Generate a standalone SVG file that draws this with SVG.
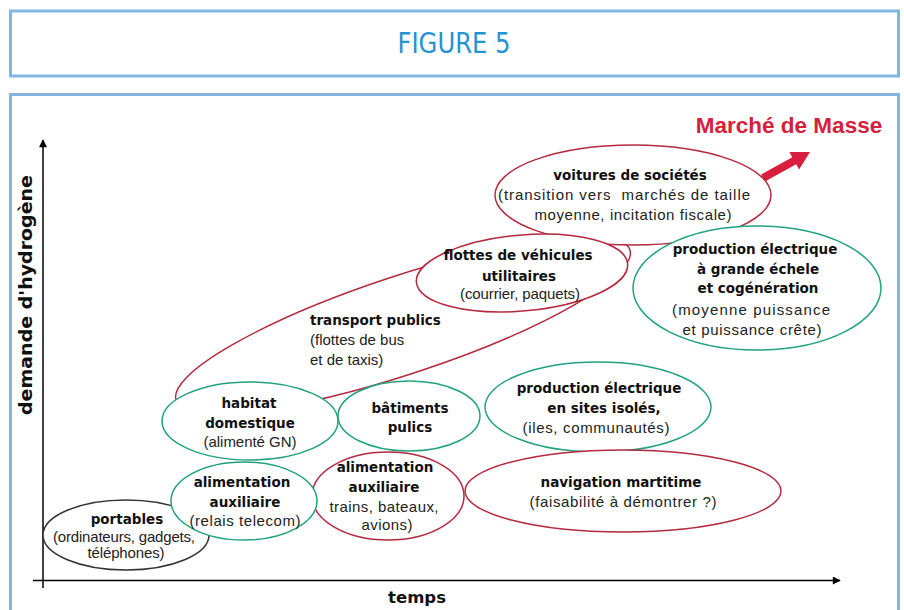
<svg xmlns="http://www.w3.org/2000/svg" width="904" height="610" viewBox="0 0 904 610">
<defs>
<marker id="ah" viewBox="0 0 10 10" refX="9" refY="5" markerWidth="10" markerHeight="8" markerUnits="userSpaceOnUse" orient="auto"><path d="M0,0 L10,5 L0,10 Z" fill="#000"/></marker>
</defs>
<style>
.frame{fill:none;stroke:#82b6e0;stroke-width:3}
.red{fill:#fff;stroke:#b42a3e;stroke-width:1.5}
.grn{fill:#fff;stroke:#22a27e;stroke-width:1.5}
.blk{fill:#fff;stroke:#333;stroke-width:1.5}
.b{font-family:"DejaVu Sans",Verdana,sans-serif;font-weight:bold;font-size:13.5px;fill:#111;text-anchor:middle}
.r{font-family:"Liberation Sans",Arial,sans-serif;font-size:15px;fill:#222;text-anchor:middle}
.ax{stroke:#000;stroke-width:1.5;fill:none}
</style>
<rect width="904" height="610" fill="#fff"/>
<rect class="frame" x="10.5" y="11" width="888" height="65"/>
<text x="454" y="53" font-family="'DejaVu Sans Condensed','DejaVu Sans',sans-serif" font-stretch="condensed" font-size="29" fill="#2593d3" text-anchor="middle" textLength="113" lengthAdjust="spacingAndGlyphs">FIGURE 5</text>
<rect class="frame" x="10.5" y="94.5" width="888" height="530"/>

<g id="axes">
<line class="ax" x1="43" y1="588" x2="43" y2="140" marker-end="url(#ah)"/>
<line class="ax" x1="33" y1="580.5" x2="840" y2="580.5" marker-end="url(#ah)"/>
<text transform="translate(32,295) rotate(-90)" font-family="'DejaVu Sans',sans-serif" font-weight="bold" font-size="18.5" text-anchor="middle" textLength="240" lengthAdjust="spacingAndGlyphs" fill="#111">demande d'hydrogène</text>
<text x="417" y="603" font-family="'DejaVu Sans',sans-serif" font-weight="bold" font-size="16.5" text-anchor="middle" fill="#111">temps</text>
</g>

<g id="marche">
<text x="789" y="133" font-family="'Liberation Sans',Arial,sans-serif" font-weight="bold" font-size="22.5" fill="#d4213d" text-anchor="middle">Marché de Masse</text>
<polygon points="764.9,181.5 796.2,164.2 799.1,169.5 810,152 789.4,152 792.3,157.2 761.1,174.5" fill="#d81e3c"/>
</g>

<g id="transport">
<ellipse class="red" cx="403" cy="325" rx="239" ry="49" transform="rotate(-18.3 403 325)"/>
<text x="310" y="325" class="b" style="text-anchor:start">transport publics</text>
<text x="310" y="345" class="r" style="text-anchor:start">(flottes de bus</text>
<text x="310" y="365" class="r" style="text-anchor:start">et de taxis)</text>
</g>

<g id="voitures">
<ellipse class="red" cx="633" cy="195" rx="138" ry="50"/>
<text x="630" y="180" class="b">voitures de sociétés</text>
<text x="624" y="200" class="r" style="white-space:pre" textLength="252">(transition vers  marchés de taille</text>
<text x="633" y="220" class="r" textLength="197">moyenne, incitation fiscale)</text>
</g>

<g id="flottes">
<ellipse class="red" cx="522" cy="273" rx="106" ry="38" transform="rotate(-5 522 273)"/>
<text x="518" y="260" class="b">flottes de véhicules</text>
<text x="519" y="281" class="b">utilitaires</text>
<text x="520" y="299" class="r" textLength="120">(courrier, paquets)</text>
</g>

<g id="grande">
<ellipse class="grn" cx="757" cy="288" rx="124" ry="62"/>
<text x="755" y="254" class="b">production électrique</text>
<text x="758" y="274" class="b">à grande échele</text>
<text x="758" y="293" class="b">et cogénération</text>
<text x="751" y="315" class="r" textLength="158">(moyenne puissance</text>
<text x="752" y="335" class="r" textLength="139">et puissance crête)</text>
</g>

<g id="habitat">
<ellipse class="grn" cx="250" cy="421" rx="88" ry="39"/>
<text x="249" y="408" class="b">habitat</text>
<text x="250" y="428" class="b">domestique</text>
<text x="250" y="447" class="r" textLength="93">(alimenté GN)</text>
</g>

<g id="batiments">
<ellipse class="grn" cx="409" cy="416" rx="71" ry="35"/>
<text x="410" y="413" class="b">bâtiments</text>
<text x="410" y="432" class="b">pulics</text>
</g>

<g id="sites">
<ellipse class="grn" cx="598" cy="407" rx="113" ry="45"/>
<text x="599" y="393" class="b">production électrique</text>
<text x="604" y="413" class="b">en sites isolés,</text>
<text x="596" y="433" class="r" textLength="147">(iles, communautés)</text>
</g>

<g id="navigation">
<ellipse class="red" cx="623" cy="491" rx="158" ry="41"/>
<text x="621" y="487" class="b">navigation martitime</text>
<text x="623" y="507" class="r" textLength="187">(faisabilité à démontrer ?)</text>
</g>

<g id="trains">
<ellipse class="red" cx="388" cy="496" rx="76" ry="44"/>
<text x="385" y="472" class="b">alimentation</text>
<text x="384" y="492" class="b">auxiliaire</text>
<text x="384" y="512" class="r" textLength="109">trains, bateaux,</text>
<text x="387" y="530" class="r" textLength="51">avions)</text>
</g>

<g id="portables">
<ellipse class="blk" cx="126" cy="535" rx="83" ry="35"/>
<text x="127" y="524" class="b">portables</text>
<text x="124" y="542" class="r" textLength="142">(ordinateurs, gadgets,</text>
<text x="126" y="558" class="r" textLength="77">téléphones)</text>
</g>

<g id="relais">
<ellipse class="grn" cx="244" cy="501" rx="73" ry="39"/>
<text x="242" y="487" class="b">alimentation</text>
<text x="245" y="507" class="b">auxiliaire</text>
<text x="245" y="526" class="r" textLength="111">(relais telecom)</text>
</g>
</svg>
